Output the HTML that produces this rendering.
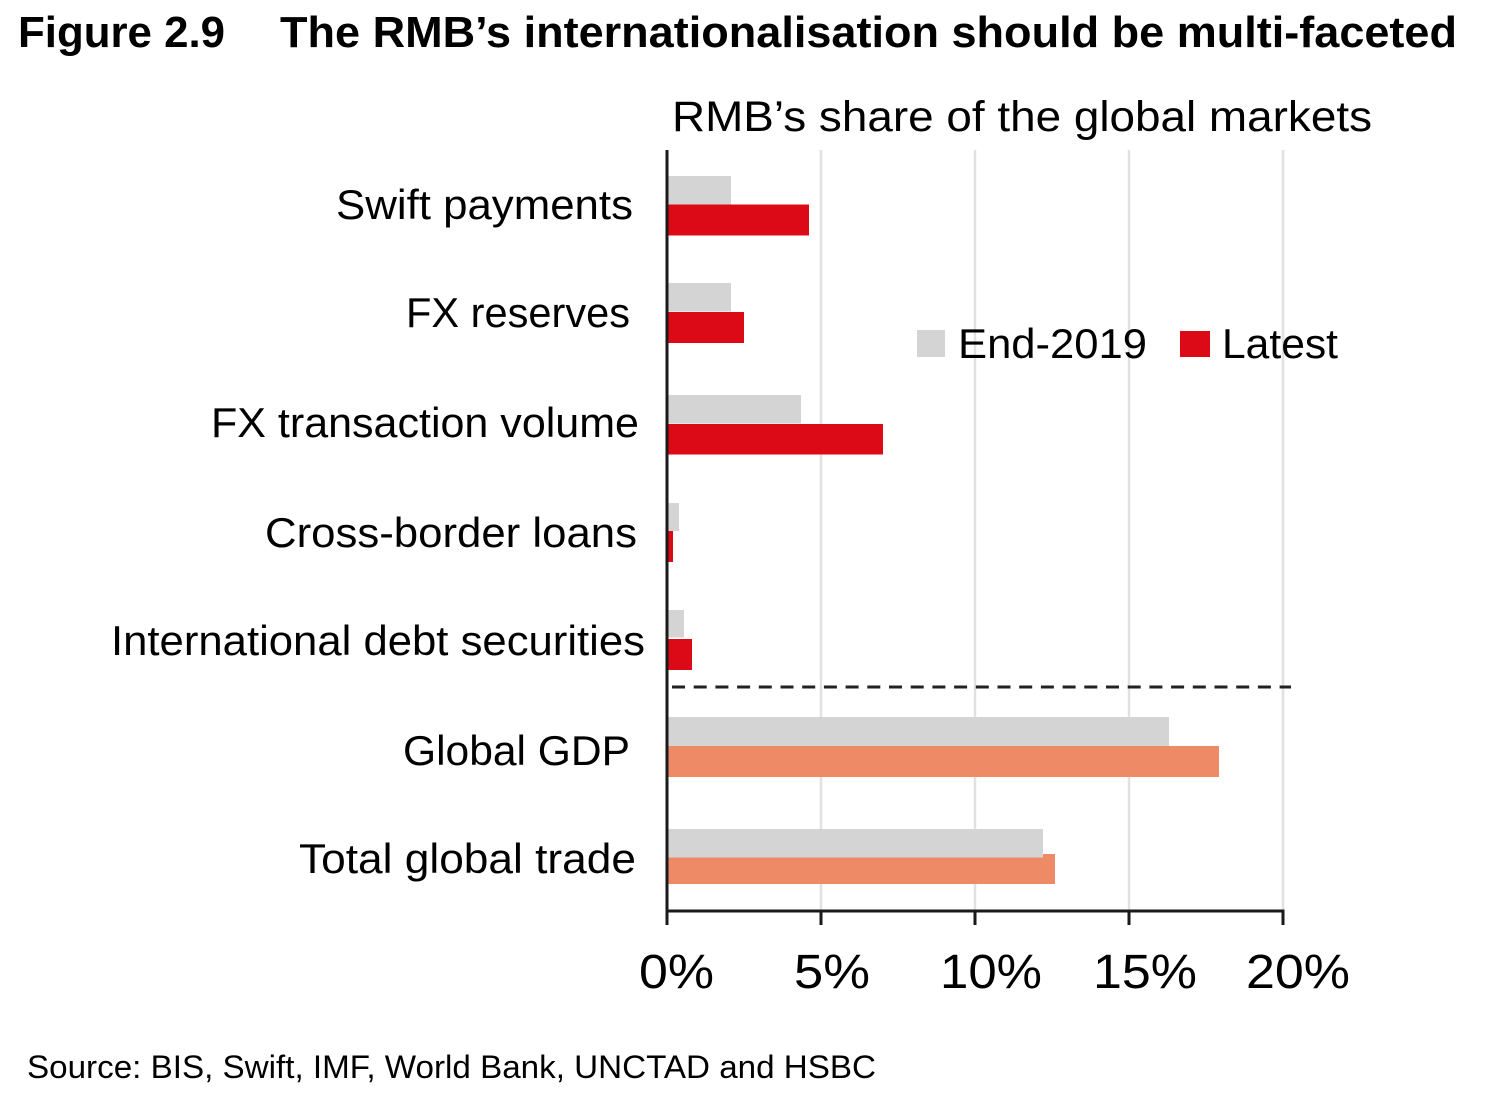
<!DOCTYPE html>
<html>
<head>
<meta charset="utf-8">
<style>
  html, body { margin: 0; padding: 0; background: #ffffff; }
  svg { display: block; }
  text { font-family: "Liberation Sans", Arial, Helvetica, sans-serif; fill: #000; }
</style>
</head>
<body>
<svg width="1500" height="1104" viewBox="0 0 1500 1104" xmlns="http://www.w3.org/2000/svg">
  <rect x="0" y="0" width="1500" height="1104" fill="#ffffff"/>

  <!-- Title -->
  <text x="18" y="47" font-size="44" font-weight="bold" textLength="207" lengthAdjust="spacingAndGlyphs">Figure 2.9</text>
  <text x="280" y="47" font-size="44" font-weight="bold" textLength="1177" lengthAdjust="spacingAndGlyphs">The RMB’s internationalisation should be multi-faceted</text>

  <!-- Subtitle -->
  <text x="672" y="131" font-size="43" textLength="700" lengthAdjust="spacingAndGlyphs">RMB’s share of the global markets</text>

  <!-- Gridlines -->
  <g stroke="#e1e1e1" stroke-width="2.5">
    <line x1="821" y1="150" x2="821" y2="911"/>
    <line x1="975" y1="150" x2="975" y2="911"/>
    <line x1="1129" y1="150" x2="1129" y2="911"/>
    <line x1="1283" y1="150" x2="1283" y2="911"/>
  </g>

  <!-- Bars -->
  <!-- Swift payments -->
  <rect x="668" y="176" width="63" height="28.5" fill="#d4d4d4"/>
  <rect x="668" y="204.5" width="141" height="31" fill="#dc0a16"/>
  <!-- FX reserves -->
  <rect x="668" y="283" width="63" height="28.5" fill="#d4d4d4"/>
  <rect x="668" y="312" width="76" height="31" fill="#dc0a16"/>
  <!-- FX transaction volume -->
  <rect x="668" y="395" width="133" height="28.5" fill="#d4d4d4"/>
  <rect x="668" y="424" width="215" height="30.5" fill="#dc0a16"/>
  <!-- Cross-border loans -->
  <rect x="668" y="503" width="11" height="28" fill="#d4d4d4"/>
  <rect x="668" y="531" width="5" height="31" fill="#dc0a16"/>
  <!-- International debt securities -->
  <rect x="668" y="610" width="16" height="27.5" fill="#d4d4d4"/>
  <rect x="668" y="639" width="24" height="31" fill="#dc0a16"/>
  <!-- Global GDP -->
  <rect x="668" y="746" width="551" height="31" fill="#ef8a66"/>
  <rect x="668" y="717" width="501" height="29" fill="#d4d4d4"/>
  <!-- Total global trade -->
  <rect x="668" y="854" width="387" height="30" fill="#ef8a66"/>
  <rect x="668" y="829" width="375" height="28.5" fill="#d4d4d4"/>

  <!-- Dashed separator -->
  <line x1="672" y1="687" x2="1291" y2="687" stroke="#222" stroke-width="3" stroke-dasharray="13 8.7"/>

  <!-- Axes -->
  <line x1="667" y1="150" x2="667" y2="912.5" stroke="#1a1a1a" stroke-width="3"/>
  <line x1="665.5" y1="911" x2="1284.5" y2="911" stroke="#1a1a1a" stroke-width="3"/>
  <g stroke="#1a1a1a" stroke-width="3">
    <line x1="667" y1="911" x2="667" y2="925"/>
    <line x1="821" y1="911" x2="821" y2="925"/>
    <line x1="975" y1="911" x2="975" y2="925"/>
    <line x1="1129" y1="911" x2="1129" y2="925"/>
    <line x1="1283" y1="911" x2="1283" y2="925"/>
  </g>

  <!-- X tick labels -->
  <g font-size="48">
    <text x="639" y="988" textLength="75" lengthAdjust="spacingAndGlyphs">0%</text>
    <text x="794" y="988" textLength="76" lengthAdjust="spacingAndGlyphs">5%</text>
    <text x="940" y="988" textLength="102" lengthAdjust="spacingAndGlyphs">10%</text>
    <text x="1093" y="988" textLength="104" lengthAdjust="spacingAndGlyphs">15%</text>
    <text x="1246" y="988" textLength="104" lengthAdjust="spacingAndGlyphs">20%</text>
  </g>

  <!-- Category labels -->
  <g font-size="42">
    <text x="336" y="219" textLength="297" lengthAdjust="spacingAndGlyphs">Swift payments</text>
    <text x="406" y="327" textLength="224" lengthAdjust="spacingAndGlyphs">FX reserves</text>
    <text x="211" y="437" textLength="428" lengthAdjust="spacingAndGlyphs">FX transaction volume</text>
    <text x="265" y="547" textLength="372" lengthAdjust="spacingAndGlyphs">Cross-border loans</text>
    <text x="111" y="655" textLength="534" lengthAdjust="spacingAndGlyphs">International debt securities</text>
    <text x="403" y="765" textLength="227" lengthAdjust="spacingAndGlyphs">Global GDP</text>
    <text x="299" y="873" textLength="337" lengthAdjust="spacingAndGlyphs">Total global trade</text>
  </g>

  <!-- Legend -->
  <rect x="917" y="330" width="28" height="27" fill="#d4d4d4"/>
  <text x="958" y="358" font-size="42" textLength="189" lengthAdjust="spacingAndGlyphs">End-2019</text>
  <rect x="1180" y="331" width="30" height="26" fill="#dc0a16"/>
  <text x="1222" y="358" font-size="42" textLength="116" lengthAdjust="spacingAndGlyphs">Latest</text>

  <!-- Source -->
  <text x="27" y="1078" font-size="32" textLength="849" lengthAdjust="spacingAndGlyphs">Source: BIS, Swift, IMF, World Bank, UNCTAD and HSBC</text>
</svg>
</body>
</html>
